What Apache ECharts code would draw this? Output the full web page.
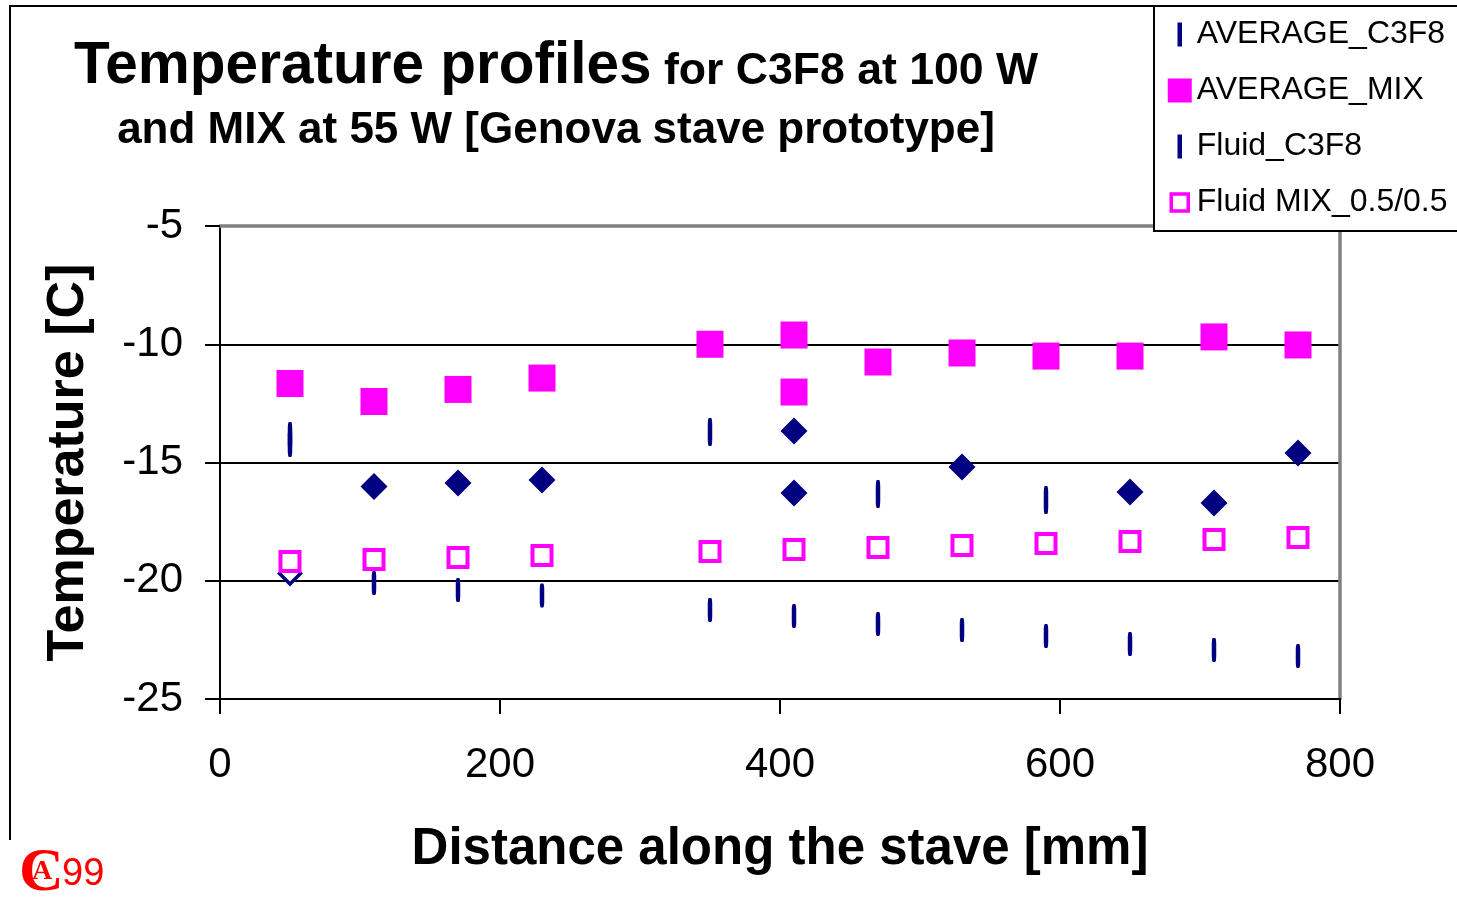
<!DOCTYPE html>
<html>
<head>
<meta charset="utf-8">
<script src="https://cdn.jsdelivr.net/npm/echarts@6/dist/echarts.min.js"></script>
<style>
html,body{margin:0;padding:0;background:#fff;}
#chart{width:1457px;height:903px;}
</style>
</head>
<body>
<div id="chart"></div>
<script>
// ---- data ----
const xTicks = [0, 200, 400, 600, 800];
const yTicks = [-25, -20, -15, -10, -5];

const avgC3F8X = [50, 50, 350, 470, 590];
const avgC3F8Y = [-13.88, -14.18, -13.71, -16.33, -16.59];

const avgMixX = [50, 110, 170, 230, 350, 410, 410, 470, 530, 590, 650, 710, 770];
const avgMixY = [-11.66, -12.42, -11.91, -11.43, -10.0, -9.61, -12.02, -10.75, -10.37, -10.5, -10.5, -9.69, -10.03];

const fluidC3F8X = [110, 170, 230, 350, 410, 470, 530, 590, 650, 710, 770];
const fluidC3F8Y = [-20.1, -20.39, -20.62, -21.24, -21.49, -21.83, -22.08, -22.34, -22.67, -22.93, -23.18];

const fluidMixX = [50, 110, 170, 230, 350, 410, 470, 530, 590, 650, 710, 770];
const fluidMixY = [-19.19, -19.1, -19.02, -18.93, -18.76, -18.68, -18.59, -18.51, -18.43, -18.34, -18.26, -18.17];

const c3f8PointsX = [110, 170, 230, 410, 410, 530, 650, 710, 770];
const c3f8PointsY = [-16.01, -15.87, -15.74, -13.67, -16.29, -15.19, -16.25, -16.71, -14.6];

const c3f8OpenX = [50];
const c3f8OpenY = [-19.69];

const seriesNames = ['AVERAGE_C3F8', 'AVERAGE_MIX', 'Fluid_C3F8', 'Fluid MIX_0.5/0.5'];

// ---- chart ----
const zip = (xs, ys) => xs.map((x, i) => [x, ys[i]]);
const NAVY = '#000080', MAG = '#ff00ff';
const FONT = 'Liberation Sans';
const dashIcon = 'path://M0 0M24 24M9.75 0h4.5v24h-4.5z';
const hollowIcon = 'path://M0 0M24 24M3.5 3.5h17v17h-17z';

const chart = echarts.init(document.getElementById('chart'), null, {renderer: 'canvas'});

const commonSeries = {
  type: 'scatter', silent: true, emphasis: {disabled: true}, animation: false
};

chart.setOption({
  animation: false,
  backgroundColor: '#fff',
  title: {
    left: 551, top: 30, textAlign: 'center',
    text: '{a|Temperature profiles}{c| for C3F8 at 100 W}\n{b|and MIX at 55 W [Genova stave prototype]}',
    textStyle: {
      rich: {
        a: {fontFamily: FONT, fontWeight: 'bold', fontSize: 58.5, lineHeight: 64, color: '#000'},
        c: {fontFamily: FONT, fontWeight: 'bold', fontSize: 44.6, lineHeight: 54, padding: [9, 0, 0, 0], color: '#000'},
        b: {fontFamily: FONT, fontWeight: 'bold', fontSize: 44, lineHeight: 64, color: '#000'}
      }
    }
  },
  legend: {
    orient: 'vertical', left: 1154, top: 6,
    backgroundColor: '#fff', borderColor: '#000', borderWidth: 2, borderRadius: 0,
    padding: [12.5, 40, 12.5, 12],
    itemWidth: 24, itemHeight: 24, itemGap: 24,
    selectedMode: false,
    textStyle: {fontFamily: FONT, fontSize: 32, lineHeight: 32, color: '#000'},
    data: [
      {name: seriesNames[0], icon: dashIcon},
      {name: seriesNames[1], icon: 'rect'},
      {name: seriesNames[2], icon: dashIcon},
      {name: seriesNames[3], icon: hollowIcon, itemStyle: {borderWidth: 3.5}}
    ]
  },
  grid: {left: 220, top: 226, width: 1120, height: 473, containLabel: false, show: false},
  xAxis: [{
    type: 'value', min: xTicks[0], max: xTicks[xTicks.length - 1], interval: 200,
    position: 'bottom',
    name: 'Distance along the stave [mm]', nameLocation: 'middle', nameGap: 125,
    nameTextStyle: {fontFamily: FONT, fontWeight: 'bold', fontSize: 51, color: '#000'},
    axisLine: {show: true, onZero: false, lineStyle: {color: '#000', width: 2}},
    axisTick: {show: true, inside: false, length: 15, lineStyle: {color: '#000', width: 2}},
    axisLabel: {fontFamily: FONT, fontSize: 42, color: '#000', margin: 45},
    splitLine: {show: false}
  }, {
    type: 'value', min: 0, max: 800, position: 'top',
    axisLine: {show: true, onZero: false, lineStyle: {color: '#808080', width: 3.5}},
    axisTick: {show: false}, axisLabel: {show: false}, splitLine: {show: false}
  }],
  yAxis: [{
    type: 'value', min: yTicks[0], max: yTicks[yTicks.length - 1], interval: 5,
    position: 'left',
    name: 'Temperature [C]', nameLocation: 'middle', nameGap: 125, nameRotate: 90,
    nameTextStyle: {fontFamily: FONT, fontWeight: 'bold', fontSize: 52, color: '#000'},
    axisLine: {show: true, onZero: false, lineStyle: {color: '#000', width: 2}},
    axisTick: {show: true, inside: false, length: 15, lineStyle: {color: '#000', width: 2}},
    axisLabel: {fontFamily: FONT, fontSize: 42, color: '#000', margin: 37},
    splitLine: {show: true, showMinLine: false, showMaxLine: false, lineStyle: {color: '#000', width: 2}}
  }, {
    type: 'value', min: -25, max: -5, position: 'right',
    axisLine: {show: true, onZero: false, lineStyle: {color: '#808080', width: 3.5}},
    axisTick: {show: false}, axisLabel: {show: false}, splitLine: {show: false}
  }],
  series: [
    Object.assign({}, commonSeries, {
      name: 'C3F8 points', data: zip(c3f8PointsX, c3f8PointsY),
      symbol: 'diamond', symbolSize: 27, itemStyle: {color: NAVY, opacity: 1}
    }),
    Object.assign({}, commonSeries, {
      name: 'C3F8 point (open)', data: zip(c3f8OpenX, c3f8OpenY),
      symbol: 'diamond', symbolSize: 21, itemStyle: {color: '#fff', borderColor: NAVY, borderWidth: 3.5, opacity: 1}
    }),
    Object.assign({}, commonSeries, {
      name: seriesNames[0], data: zip(avgC3F8X, avgC3F8Y),
      symbol: 'roundRect', symbolSize: [4.5, 28], itemStyle: {color: NAVY, opacity: 1}
    }),
    Object.assign({}, commonSeries, {
      name: seriesNames[1], data: zip(avgMixX, avgMixY),
      symbol: 'rect', symbolSize: 27, itemStyle: {color: MAG, opacity: 1}
    }),
    Object.assign({}, commonSeries, {
      name: seriesNames[2], data: zip(fluidC3F8X, fluidC3F8Y),
      symbol: 'roundRect', symbolSize: [4.5, 24], itemStyle: {color: NAVY, opacity: 1}
    }),
    Object.assign({}, commonSeries, {
      name: seriesNames[3], data: zip(fluidMixX, fluidMixY),
      symbol: 'rect', symbolSize: 19, itemStyle: {color: '#fff', borderColor: MAG, borderWidth: 4, opacity: 1}
    })
  ],
  graphic: [
    {type: 'polyline', silent: true, shape: {points: [[10, 840], [10, 6], [1457, 6]]},
     style: {stroke: '#000', lineWidth: 2, fill: null}},
    {type: 'text', silent: true, left: 19, top: 843,
     style: {text: 'C', font: 'bold 62px "Liberation Serif"', fill: '#ff0000'}},
    {type: 'text', silent: true, left: 32, top: 858,
     style: {text: 'A', font: 'bold 28px "Liberation Serif"', fill: '#ff0000'}},
    {type: 'text', silent: true, left: 62, top: 856,
     style: {text: '99', font: '38px "Liberation Sans"', fill: '#ff0000'}}
  ]
});
</script>
</body>
</html>
